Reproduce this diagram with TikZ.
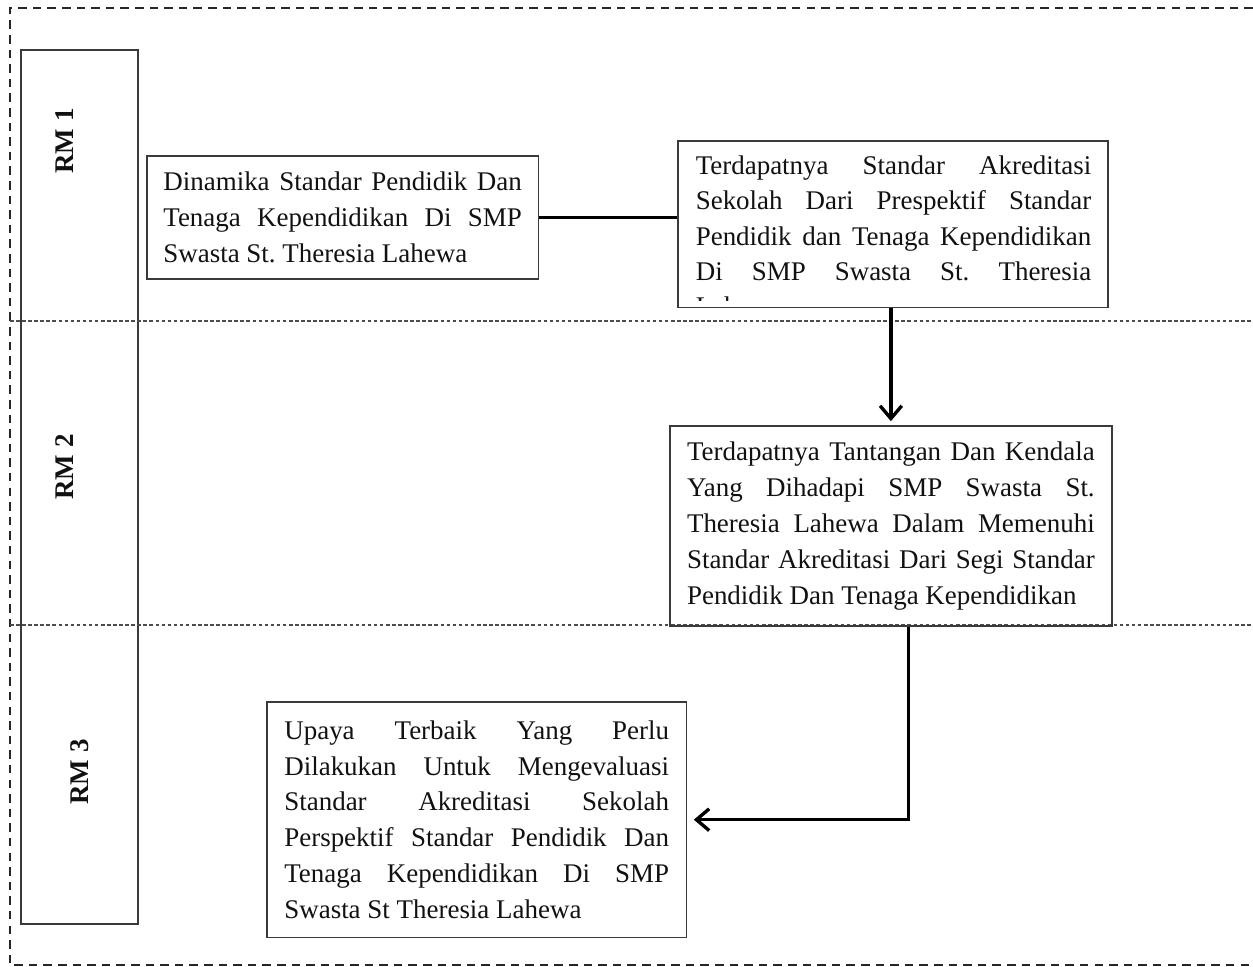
\documentclass[tikz,border=0pt]{standalone}
\usepackage{fontspec}
\setmainfont{Liberation Serif}
\usepackage{tikz}
\usetikzlibrary{arrows.meta,positioning}
\definecolor{ink}{HTML}{111111}
\definecolor{frame}{HTML}{3A3A3A}
\frenchspacing
\newcommand{\fl}[1]{\makebox[\linewidth][s]{#1}}
\tikzset{
    every picture/.style={line join=miter},
    rmlabel/.style={rotate=90,inner sep=0pt,text=ink,
      font=\fontsize{12pt}{14pt}\selectfont\bfseries},
    laneframe/.style={draw=frame,line width=0.7pt,inner sep=0pt,
      minimum width=18.3mm,minimum height=136.8mm},
    stepbox/.style={draw=frame,line width=0.7pt,inner ysep=0pt,
      align=justify,text=ink,font=\fontsize{12pt}{16pt}\selectfont},
    joinline/.style={draw=black,line width=1.5pt},
    flowarrow/.style={-{Straight Barb[length=2mm,width=3.4mm,line width=1.5pt]},
      draw=black,line width=1.5pt},
    outerdash/.style={draw=black!85,line width=1.1pt,dash pattern=on 3.8pt off 2.7pt},
    lanedash/.style={draw=black!70,line width=0.45pt,dash pattern=on 1.6pt off 1.1pt}
}

\begin{document}
\begin{tikzpicture}[x=0.1565mm,y=-0.1565mm]
  \useasboundingbox (0,0) rectangle (1253,967);

  % frame and lanes
  \draw[outerdash] (1253,8) -- (10,8) -- (10,965) -- (1253,965);
  \node[laneframe,anchor=north west] (lane) at (20,49) {};
  \draw[lanedash] (10,321) -- (1253,321);
  \draw[lanedash] (10,625) -- (1253,625);

  \node[rmlabel] (rmone) at (65,141) {RM 1};
  \node[rmlabel] (rmtwo) at (65,467) {RM 2};
  \node[rmlabel] (rmthree) at (80,772) {RM 3};

  % RM 1
  \node[stepbox,anchor=north west,text width=56.1mm,inner xsep=2.6mm,
        minimum height=19.3mm] (dinamika) at (146,155) {
    \fl{Dinamika Standar Pendidik Dan}\\
    \fl{Tenaga Kependidikan Di SMP}\\
    Swasta St. Theresia Lahewa
  };

  \node[draw=frame,line width=0.7pt,inner sep=0pt,anchor=north west,
        minimum width=67.3mm,minimum height=26.1mm] (standar) at (677,140) {};
  \begin{scope}
    \clip (standar.north west) rectangle ([yshift=1.2mm]standar.south east);
    \node[stepbox,draw=none,anchor=north west,text width=61.9mm,inner sep=0pt,
          font=\fontsize{12pt}{15.7pt}\selectfont]
      (standartext) at (695,155) {
      \fl{Terdapatnya Standar Akreditasi}\\
      \fl{Sekolah Dari Prespektif Standar}\\
      \fl{Pendidik dan Tenaga Kependidikan}\\
      \fl{Di SMP Swasta St. Theresia}\\
      Lahewa
    };
  \end{scope}

  % RM 2
  \node[stepbox,anchor=north west,text width=63.8mm,inner xsep=2.7mm,
        minimum height=31.3mm] (tantangan) at (669,425) {
    \fl{Terdapatnya Tantangan Dan Kendala}\\
    \fl{Yang Dihadapi SMP Swasta St.}\\
    \fl{Theresia Lahewa Dalam Memenuhi}\\
    \fl{Standar Akreditasi Dari Segi Standar}\\
    Pendidik Dan Tenaga Kependidikan
  };

  % RM 3
  \node[stepbox,anchor=north west,text width=60.2mm,inner xsep=2.75mm,
        minimum height=36.9mm] (upaya) at (266,701) {
    \fl{Upaya Terbaik Yang Perlu}\\
    \fl{Dilakukan Untuk Mengevaluasi}\\
    \fl{Standar Akreditasi Sekolah}\\
    \fl{Perspektif Standar Pendidik Dan}\\
    \fl{Tenaga Kependidikan Di SMP}\\
    Swasta St Theresia Lahewa
  };

  \draw[joinline] (dinamika.east) -- (dinamika.east -| standar.west);
  \draw[flowarrow] ([xshift=-0.3mm]standar.south)
    -- ([xshift=-0.3mm,yshift=0.6mm]standar.south |- tantangan.north);
  \draw[flowarrow] ([xshift=2.8mm]tantangan.south) |- ([xshift=1mm]upaya.east);
\end{tikzpicture}
\end{document}
